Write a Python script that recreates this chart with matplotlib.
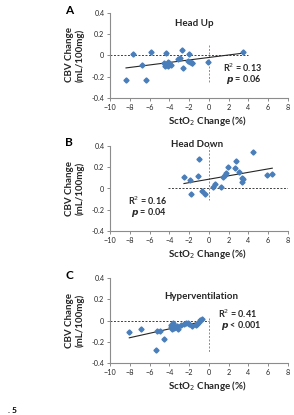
import numpy as np
import matplotlib
matplotlib.use("Agg")
import matplotlib.pyplot as plt

plt.rcParams['font.family'] = ['Lato', 'DejaVu Sans']

# Panel A - Head Up
a_x = [-8.38, -6.36, -7.64, -6.73, -5.85, -4.5, -4.34, -4.4, -4.18, -4.0, -3.87, -4.1,
       -3.16, -2.92, -2.69, -2.59, -2.04, -2.14, -1.9, -1.74, -1.67, -0.06, 3.48]
a_y = [-0.231, -0.231, 0.011, -0.09, 0.03, -0.074, 0.02, -0.099, -0.058, -0.07, -0.09, -0.1,
       -0.036, -0.027, 0.052, -0.12, 0.011, -0.05, -0.058, -0.067, -0.075, -0.064, 0.03]

# Panel B - Head Down
b_x = [-2.52, -1.91, -1.81, -1.13, -0.97, -0.67, -0.43, 0.38, 0.59, 1.22, 1.39, 1.63,
       1.73, 1.9, 2.71, 2.64, 3.08, 3.32, 3.38, 3.48, 4.49, 5.87, 6.41]
b_y = [0.111, 0.08, -0.052, 0.121, 0.278, -0.02, -0.055, 0.017, 0.04, 0.011, 0.111, 0.127,
       0.143, 0.2, 0.262, 0.19, 0.159, 0.102, 0.058, 0.09, 0.341, 0.124, 0.137]

# Panel C - Hyperventilation
c_x = [-8.05, -6.9, -5.28, -4.94, -4.54, -5.35, -3.83, -3.77, -3.66, -3.53, -3.26, -3.09,
       -2.82, -2.52, -2.32, -2.15, -1.99, -1.75, -1.3, -1.17, -1.0, -0.87, -0.7, -3.8, -3.4]
c_y = [-0.108, -0.083, -0.098, -0.098, -0.17, -0.277, -0.046, -0.083, -0.028, -0.068, -0.05, -0.076,
       -0.046, -0.037, -0.028, -0.021, -0.031, -0.05, -0.046, -0.037, -0.015, 0.003, 0.018, -0.06, -0.065]

panels = [
    dict(letter="A", title="Head Up", x=a_x, y=a_y, r2="R$^2$ = 0.13", p="= 0.06",
         top=13, title_xy=(-1.5, 0.3), stat_xy=(1.4, -0.115),
         hline=(-10, 4.0), vline=(0.1, -0.25)),
    dict(letter="B", title="Head Down", x=b_x, y=b_y, r2="R$^2$ = 0.16", p="= 0.04",
         top=146, title_xy=(-1.2, 0.41), stat_xy=(-8.2, -0.115),
         hline=(-4.1, 8), vline=(0.4, -0.11)),
    dict(letter="C", title="Hyperventilation", x=c_x, y=c_y, r2="R$^2$ = 0.41", p="< 0.001",
         top=278, title_xy=(-0.8, 0.23), stat_xy=(0.9, 0.065),
         hline=(-10, 0), vline=(0.02, -0.3)),
]

W, H = 294, 415
fig = plt.figure(figsize=(W / 100, H / 100), dpi=100)
fig.patch.set_facecolor('white')

blue = '#4A7EBB'
txt = '#262626'

for pn in panels:
    left, right = 110, 288
    top, bottom = pn['top'], pn['top'] + 85
    ax = fig.add_axes([left / W, 1 - bottom / H, (right - left) / W, (bottom - top) / H])
    ax.set_xlim(-10, 8)
    ax.set_ylim(-0.4, 0.4)
    ax.set_xticks(np.arange(-10, 9, 2))
    ax.set_yticks([-0.4, -0.2, 0, 0.2, 0.4])
    ax.set_yticklabels(['-0.4', '-0.2', '0', '0.2', '0.4'])
    for s in ['top', 'right']:
        ax.spines[s].set_visible(False)
    for s in ['left', 'bottom']:
        ax.spines[s].set_color('#8c8c8c')
        ax.spines[s].set_linewidth(0.8)
    ax.tick_params(labelsize=5.2, colors='#8c8c8c', labelcolor=txt, length=2, width=0.7, pad=2)

    ax.plot(pn['hline'], [0, 0], color='#404040', lw=0.7, ls=(0, (2, 1.6)))
    ax.plot([0, 0], pn['vline'], color='#8c8c8c', lw=0.7, ls=(0, (2, 1.6)))

    xs = np.array(pn['x'])
    ys = np.array(pn['y'])
    k, b = np.polyfit(xs, ys, 1)
    lx = np.array([xs.min(), xs.max()])
    ax.plot(lx, k * lx + b, color='#262626', lw=0.8)

    ax.plot(xs, ys, ls='none', marker='D', ms=2.6, color=blue, mec=blue)

    ax.text(pn['title_xy'][0], pn['title_xy'][1], pn['title'], ha='center', va='center',
            fontsize=7, fontweight='bold', color=txt)
    sx, sy = pn['stat_xy']
    ax.text(sx, sy, pn['r2'], ha='left', va='center', fontsize=6.5, fontweight='bold', color=txt)
    ax.text(sx + 0.3, sy - 0.11, r'$\boldsymbol{p}$ ' + pn['p'], ha='left', va='center',
            fontsize=6.5, fontweight='bold', color=txt)

    fig.text(69 / W, 1 - (top - 3) / H, pn['letter'], ha='center', va='center',
             fontsize=8.5, fontweight='bold', color='black')
    fig.text(75 / W, 1 - (top + 42) / H, "CBV Change\n(mL/100mg)", ha='center', va='center',
             rotation=90, fontsize=7, fontweight='bold', color=txt, linespacing=1.1)
    fig.text(207 / W, 1 - (bottom + 23) / H, "SctO$_2$ Change (%)", ha='center', va='center',
             fontsize=7, fontweight='bold', color=txt)

fig.text(8 / W, 1 / H, ". 5", ha='left', va='bottom', fontsize=6, fontweight='bold', color='black')

fig.savefig("out.png", dpi=100, facecolor='white')
